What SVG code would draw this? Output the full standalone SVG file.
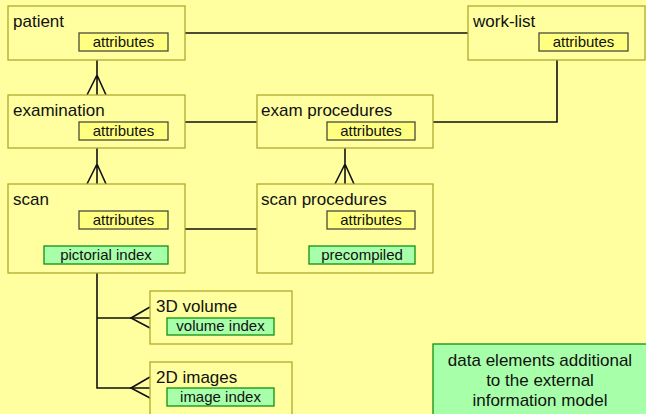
<svg xmlns="http://www.w3.org/2000/svg" width="646" height="414" viewBox="0 0 646 414">
<style>
.bg{fill:#FFFFA0}
.ent{fill:#FFFFA0;stroke:#B0AA30;stroke-width:1.3}
.att{fill:#FFFF80;stroke:#4a4a3a;stroke-width:1.3}
.grn{fill:#A8FFAA;stroke:#109010;stroke-width:1.3}
.t{font-family:"Liberation Sans",Arial,sans-serif;font-size:17px;fill:#111}
.s{font-family:"Liberation Sans",Arial,sans-serif;font-size:15px;fill:#111;text-anchor:middle}
.c{fill:none;stroke:#111;stroke-width:1.6}
</style>
<rect class="bg" x="0" y="0" width="646" height="414"/>
<g id="connectors">
<path class="c" d="M185,33 H468"/>
<path class="c" d="M97,60 V95 M87,95 L97,75 L106,95"/>
<path class="c" d="M185,122 H257"/>
<path class="c" d="M433,122 H557 V60"/>
<path class="c" d="M97,148 V184 M87,184 L97,164 L106,184"/>
<path class="c" d="M345,148 V184 M335,184 L345,164 L354,184"/>
<path class="c" d="M185,229 H257"/>
<path class="c" d="M97,273 V388 H150 M97,318 H150"/>
<path class="c" d="M150,307 L131,318 L150,328"/>
<path class="c" d="M150,377 L131,388 L150,398"/>
</g>
<g id="patient">
<rect class="ent" x="8" y="6" width="177" height="54"/>
<text class="t" x="13" y="27">patient</text>
<rect class="att" x="79" y="33" width="89" height="18"/>
<text class="s" x="123.5" y="47">attributes</text>
</g>
<g id="work-list">
<rect class="ent" x="468" y="6" width="177" height="54"/>
<text class="t" x="473" y="27">work-list</text>
<rect class="att" x="539" y="33" width="89" height="18"/>
<text class="s" x="583.5" y="47">attributes</text>
</g>
<g id="examination">
<rect class="ent" x="8" y="95" width="177" height="53"/>
<text class="t" x="13" y="115.5">examination</text>
<rect class="att" x="79" y="122" width="89" height="18"/>
<text class="s" x="123.5" y="136">attributes</text>
</g>
<g id="exam-procedures">
<rect class="ent" x="257" y="95" width="176" height="53"/>
<text class="t" x="261" y="115.5">exam procedures</text>
<rect class="att" x="327" y="122" width="88" height="18"/>
<text class="s" x="371" y="136">attributes</text>
</g>
<g id="scan">
<rect class="ent" x="8" y="184" width="177" height="89"/>
<text class="t" x="13" y="205">scan</text>
<rect class="att" x="79" y="211" width="89" height="18"/>
<text class="s" x="123.5" y="225">attributes</text>
<rect class="grn" x="44" y="246" width="124" height="18"/>
<text class="s" x="106" y="260">pictorial index</text>
</g>
<g id="scan-procedures">
<rect class="ent" x="257" y="184" width="176" height="89"/>
<text class="t" x="261" y="205">scan procedures</text>
<rect class="att" x="327" y="211" width="88" height="18"/>
<text class="s" x="371" y="225">attributes</text>
<rect class="grn" x="309" y="246" width="106" height="18"/>
<text class="s" x="362" y="260">precompiled</text>
</g>
<g id="volume3d">
<rect class="ent" x="150" y="291" width="142" height="53"/>
<text class="t" x="156" y="312">3D volume</text>
<rect class="grn" x="167" y="318" width="107" height="17"/>
<text class="s" x="220.5" y="331">volume index</text>
</g>
<g id="images2d">
<rect class="ent" x="150" y="362" width="142" height="60"/>
<text class="t" x="156" y="383">2D images</text>
<rect class="grn" x="167" y="388" width="107" height="18"/>
<text class="s" x="220.5" y="402">image index</text>
</g>
<g id="legend">
<rect class="grn" x="433" y="344" width="220" height="80"/>
<text class="t" x="540" y="365.5" text-anchor="middle">data elements additional</text>
<text class="t" x="540" y="385.5" text-anchor="middle">to the external</text>
<text class="t" x="540" y="405.5" text-anchor="middle">information model</text>
</g>
</svg>
